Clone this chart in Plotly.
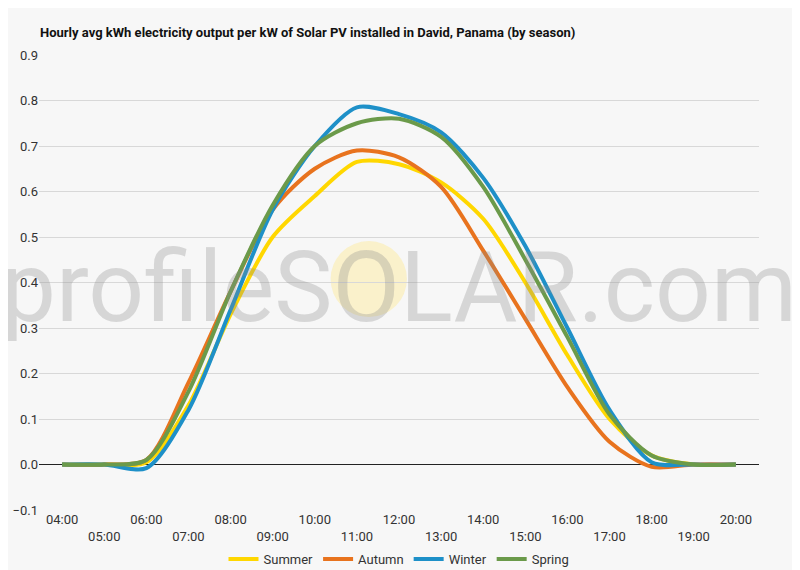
import plotly.graph_objects as go

hours = ["04:00","05:00","06:00","07:00","08:00","09:00","10:00","11:00","12:00","13:00","14:00","15:00","16:00","17:00","18:00","19:00","20:00"]
summer = [0,0,0.005,0.13,0.33,0.50,0.59,0.665,0.66,0.62,0.54,0.40,0.24,0.10,0.02,0.0,0]
autumn = [0,0,0.01,0.18,0.38,0.56,0.65,0.69,0.675,0.61,0.47,0.32,0.17,0.05,-0.005,0,0]
winter = [0,0,-0.008,0.12,0.34,0.56,0.70,0.785,0.77,0.73,0.63,0.48,0.30,0.12,0.005,0,0]
spring = [0,0,0.01,0.16,0.38,0.57,0.70,0.75,0.76,0.72,0.61,0.45,0.28,0.11,0.02,0,0]
yticks = [-0.1,0.0,0.1,0.2,0.3,0.4,0.5,0.6,0.7,0.8,0.9]

series = [("Summer", summer, "#FFD700"), ("Autumn", autumn, "#E8731E"),
          ("Winter", winter, "#1E90C8"), ("Spring", spring, "#6B9A4A")]

fig = go.Figure()
xs = list(range(len(hours)))
for name, vals, col in series:
    fig.add_trace(go.Scatter(x=xs, y=vals, name=name, mode="lines",
                             line=dict(color=col, width=4, shape="spline", smoothing=0.8)))

ticktext = [h if i % 2 == 0 else "<br>" + h for i, h in enumerate(hours)]
fig.update_layout(
    width=800, height=570,
    paper_bgcolor="#f7f7f7", plot_bgcolor="#f7f7f7",
    font=dict(family="Roboto", size=13, color="#333"),
    title=dict(text="<b>Hourly avg kWh electricity output per kW of Solar PV installed in David, Panama (by season)</b>",
               x=0.04, xanchor="left", y=0.965, font=dict(size=13, color="#111")),
    margin=dict(l=31, r=49, t=47, b=68, autoexpand=False),
    xaxis=dict(tickvals=xs, ticktext=ticktext, range=[-0.55, 16.55], showgrid=False,
               zeroline=False, ticks="", tickfont=dict(size=13, color="#333"), automargin=False),
    yaxis=dict(tickvals=yticks, tickformat=".1f", range=[-0.1, 0.9], gridcolor="#d8d8d8", automargin=False,
               zeroline=True, zerolinecolor="#222", zerolinewidth=1, tickfont=dict(size=13, color="#333")),
    legend=dict(orientation="h", x=0.5, xanchor="center", y=-0.075, yanchor="top",
                font=dict(size=13), bgcolor="rgba(0,0,0,0)"),
)
fig.add_shape(type="circle", xref="paper", yref="paper", x0=0.405, x1=0.511, y0=0.424, y1=0.591,
              fillcolor="rgba(255,230,120,0.35)", line=dict(width=0), layer="below")
fig.add_annotation(text="profileSOLAR.com", xref="paper", yref="paper", x=0.5, y=0.49,
                   showarrow=False, font=dict(size=98, color="rgba(140,140,140,0.3)", family="Roboto"))
fig.write_html("out.html")
